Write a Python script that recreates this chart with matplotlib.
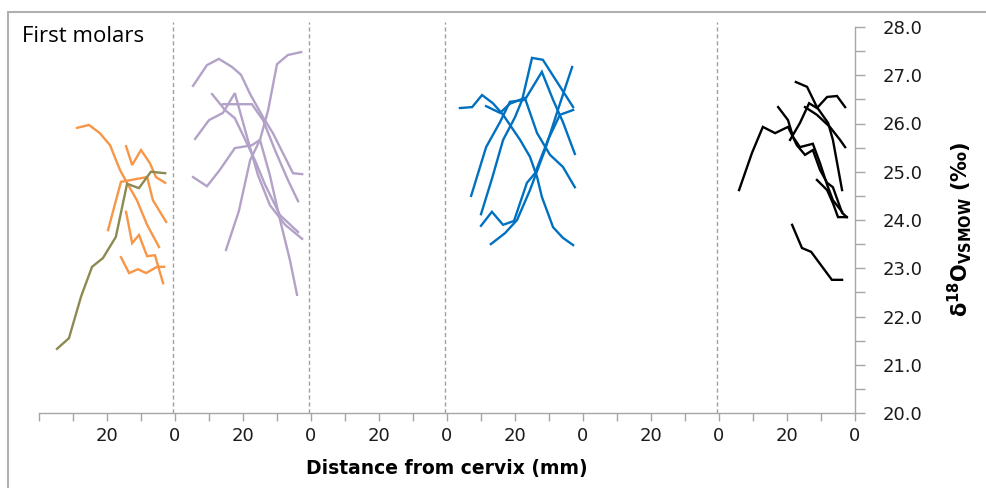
import numpy as np
import matplotlib
matplotlib.use("Agg")
import matplotlib.pyplot as plt
from matplotlib.patches import Rectangle
from matplotlib.ticker import MultipleLocator, FixedLocator, FixedFormatter

# distance from cervix (mm) and d18O values, one list of (d, v) per panel
olive_lines = [
    ([34.7, 31.2, 27.6, 24.4, 21.2, 17.4, 14.1, 10.6, 7.1, 2.9],
     [21.33, 21.55, 22.42, 23.03, 23.21, 23.65, 24.75, 24.66, 25.00, 24.97]),
]
orange_lines = [
    ([28.8, 25.3, 22.1, 19.1, 16.2, 13.8, 11.2, 8.2, 4.7],
     [25.91, 25.97, 25.80, 25.55, 25.04, 24.73, 24.41, 23.90, 23.44]),
    ([14.4, 12.6, 10.0, 7.4, 5.6, 2.9],
     [25.53, 25.14, 25.45, 25.18, 24.89, 24.77]),
    ([19.7, 15.9, 8.2, 6.5, 2.6],
     [23.79, 24.79, 24.89, 24.41, 23.96]),
    ([14.4, 12.6, 10.6, 8.2, 5.9, 3.5],
     [24.17, 23.52, 23.69, 23.25, 23.27, 22.69]),
    ([15.9, 13.5, 10.9, 8.5, 5.3, 3.2],
     [23.23, 22.90, 22.98, 22.90, 23.03, 23.03]),
]
purple_lines = [
    ([34.7, 30.6, 27.1, 23.2, 20.6, 17.9, 14.1, 11.2, 5.3, 2.6],
     [26.78, 27.21, 27.34, 27.17, 27.01, 26.61, 26.13, 25.80, 24.97, 24.95]),
    ([29.1, 25.3, 22.4, 20.0, 16.5, 13.5, 9.1, 3.8],
     [26.61, 26.28, 26.11, 25.76, 25.24, 24.73, 24.10, 23.75]),
    ([34.1, 30.0, 25.9, 22.4, 18.8, 15.6, 12.1, 7.6, 2.6],
     [25.68, 26.07, 26.22, 26.63, 25.72, 24.93, 24.31, 23.90, 23.61]),
    ([34.7, 30.6, 26.8, 22.4, 17.4, 15.0, 12.1, 9.1, 6.2, 4.1],
     [24.89, 24.70, 25.04, 25.49, 25.55, 25.66, 24.93, 24.00, 23.17, 22.45]),
    ([25.0, 21.2, 17.9, 15.0, 12.6, 10.0, 6.8, 2.9],
     [23.38, 24.19, 25.24, 25.66, 26.28, 27.23, 27.42, 27.48]),
    ([25.9, 17.4, 14.1, 10.6, 6.8, 3.8],
     [26.40, 26.40, 26.07, 25.45, 24.83, 24.39]),
]
blue_lines = [
    ([36.2, 32.6, 29.7, 26.5, 23.5, 20.9, 18.5, 15.6, 13.5, 12.1, 8.8, 5.9, 2.9],
     [26.32, 26.34, 26.59, 26.42, 26.18, 25.91, 25.66, 25.31, 24.89, 24.48, 23.85, 23.63, 23.48]),
    ([28.5, 24.4, 21.5, 17.1, 13.5, 9.7, 5.9, 2.4],
     [26.36, 26.22, 26.41, 26.53, 25.80, 25.35, 25.10, 24.68]),
    ([30.0, 26.8, 23.5, 20.0, 17.9, 15.0, 11.8, 2.9],
     [24.12, 24.85, 25.66, 26.13, 26.49, 27.36, 27.32, 26.34]),
    ([32.9, 28.5, 24.4, 21.5, 17.1, 12.1, 8.8, 5.9, 2.4],
     [24.50, 25.51, 26.03, 26.45, 26.49, 27.07, 26.49, 26.03, 25.37]),
    ([30.0, 26.8, 23.5, 20.3, 16.5, 14.1, 10.3, 6.8, 2.9],
     [23.88, 24.17, 23.90, 23.98, 24.77, 24.97, 25.66, 26.18, 26.28]),
    ([27.1, 22.9, 19.4, 15.6, 11.2, 7.4, 3.2],
     [23.50, 23.73, 24.00, 24.62, 25.45, 26.28, 27.17]),
]
black_lines = [
    ([34.1, 30.3, 27.1, 23.5, 19.7, 17.1, 14.7, 12.4, 10.3, 8.2, 6.5, 3.8, 2.4],
     [24.62, 25.39, 25.93, 25.80, 25.93, 25.55, 25.35, 25.45, 25.04, 24.77, 24.68, 24.15, 24.06]),
    ([22.6, 19.7, 18.2, 16.2, 12.4, 10.3, 8.2, 6.5, 3.8],
     [26.34, 26.07, 25.72, 25.51, 25.58, 25.18, 24.73, 24.41, 24.17]),
    ([17.4, 14.1, 11.2, 7.9, 6.5, 3.8],
     [26.86, 26.76, 26.34, 26.01, 25.66, 24.62]),
    ([19.1, 16.2, 13.5, 11.2, 8.2, 5.3, 2.9],
     [25.66, 26.01, 26.42, 26.32, 26.55, 26.57, 26.34]),
    ([14.7, 11.2, 7.4, 4.4, 2.9],
     [26.34, 26.18, 25.93, 25.66, 25.51]),
    ([11.2, 8.2, 6.5, 5.0, 2.4],
     [24.83, 24.62, 24.35, 24.06, 24.06]),
    ([18.5, 15.6, 12.9, 6.8, 3.8],
     [23.90, 23.42, 23.34, 22.76, 22.76]),
]

panel_width = 40  # mm per panel, axis reversed inside each panel
n_panels = 6
divider_panels = [1, 2, 3, 5]  # dashed separators (none between panel 4 and 5)

colors = {
    "orange": "#F79646",
    "olive": "#8C8A52",
    "purple": "#B3A2C7",
    "blue": "#0070C0",
    "black": "#000000",
}


def to_x(panel, d):
    return panel * panel_width + (panel_width - np.asarray(d))


plt.rcParams["mathtext.default"] = "bf"
fig = plt.figure(figsize=(9.87, 4.88), dpi=100)
ax = fig.add_axes([39 / 987, 75 / 488, 816 / 987, 386 / 488])

groups = [
    (0, orange_lines, colors["orange"]),
    (0, olive_lines, colors["olive"]),
    (1, purple_lines, colors["purple"]),
    (3, blue_lines, colors["blue"]),
    (5, black_lines, colors["black"]),
]
for panel, lines, col in groups:
    for d, v in lines:
        ax.plot(to_x(panel, d), v, color=col, lw=1.7, solid_joinstyle="miter")

for p in divider_panels:
    ax.vlines(p * panel_width - 0.5, 20, 28.1, colors="#a0a0a0",
              linestyles=(0, (3, 2)), lw=1.0, clip_on=False)

ax.set_xlim(0, n_panels * panel_width)
ax.set_ylim(20, 28)

# x ticks every 10 mm, labels "20" and "0" per panel
xt = np.arange(0, n_panels * panel_width + 1, 10)
xl = []
for t in xt:
    if t % 40 == 20:
        xl.append("20")
    elif t % 40 == 0 and t > 0:
        xl.append("0")
    else:
        xl.append("")
ax.xaxis.set_major_locator(FixedLocator(xt))
ax.xaxis.set_major_formatter(FixedFormatter(xl))

ax.yaxis.tick_right()
ax.yaxis.set_major_locator(MultipleLocator(1))
ax.yaxis.set_minor_locator(MultipleLocator(0.5))
ax.set_yticklabels([f"{v:.1f}" for v in ax.get_yticks()])

for s in ["top", "left"]:
    ax.spines[s].set_visible(False)
for s in ["bottom", "right"]:
    ax.spines[s].set_color("#a6a6a6")
    ax.spines[s].set_linewidth(1.0)

ax.tick_params(axis="x", direction="out", length=6, width=1, color="#a6a6a6",
               labelsize=13, pad=4, labelcolor="#1a1a1a")
ax.tick_params(axis="y", which="both", direction="out", length=7, width=1,
               color="#a6a6a6", labelsize=13, pad=13, labelcolor="#1a1a1a",
               right=True, left=False)

ax.set_xlabel("Distance from cervix (mm)", fontsize=13.5, fontweight="bold",
              labelpad=10)

fig.text(960 / 987, 0.53, r"$\delta^{18}O_{VSMOW}$ (‰)", rotation=90,
         ha="center", va="center", fontsize=15, fontweight="bold")

fig.text(22 / 987, 1 - 36 / 488, "First molars", fontsize=16,
         family="Open Sans", ha="left", va="center")

fig.patches.append(Rectangle((8 / 987, -0.1), 1.2, 1.1 - 12 / 488,
                             transform=fig.transFigure, fill=False,
                             edgecolor="#b0b0b0", lw=1.5))

fig.savefig("out.png", dpi=100)
